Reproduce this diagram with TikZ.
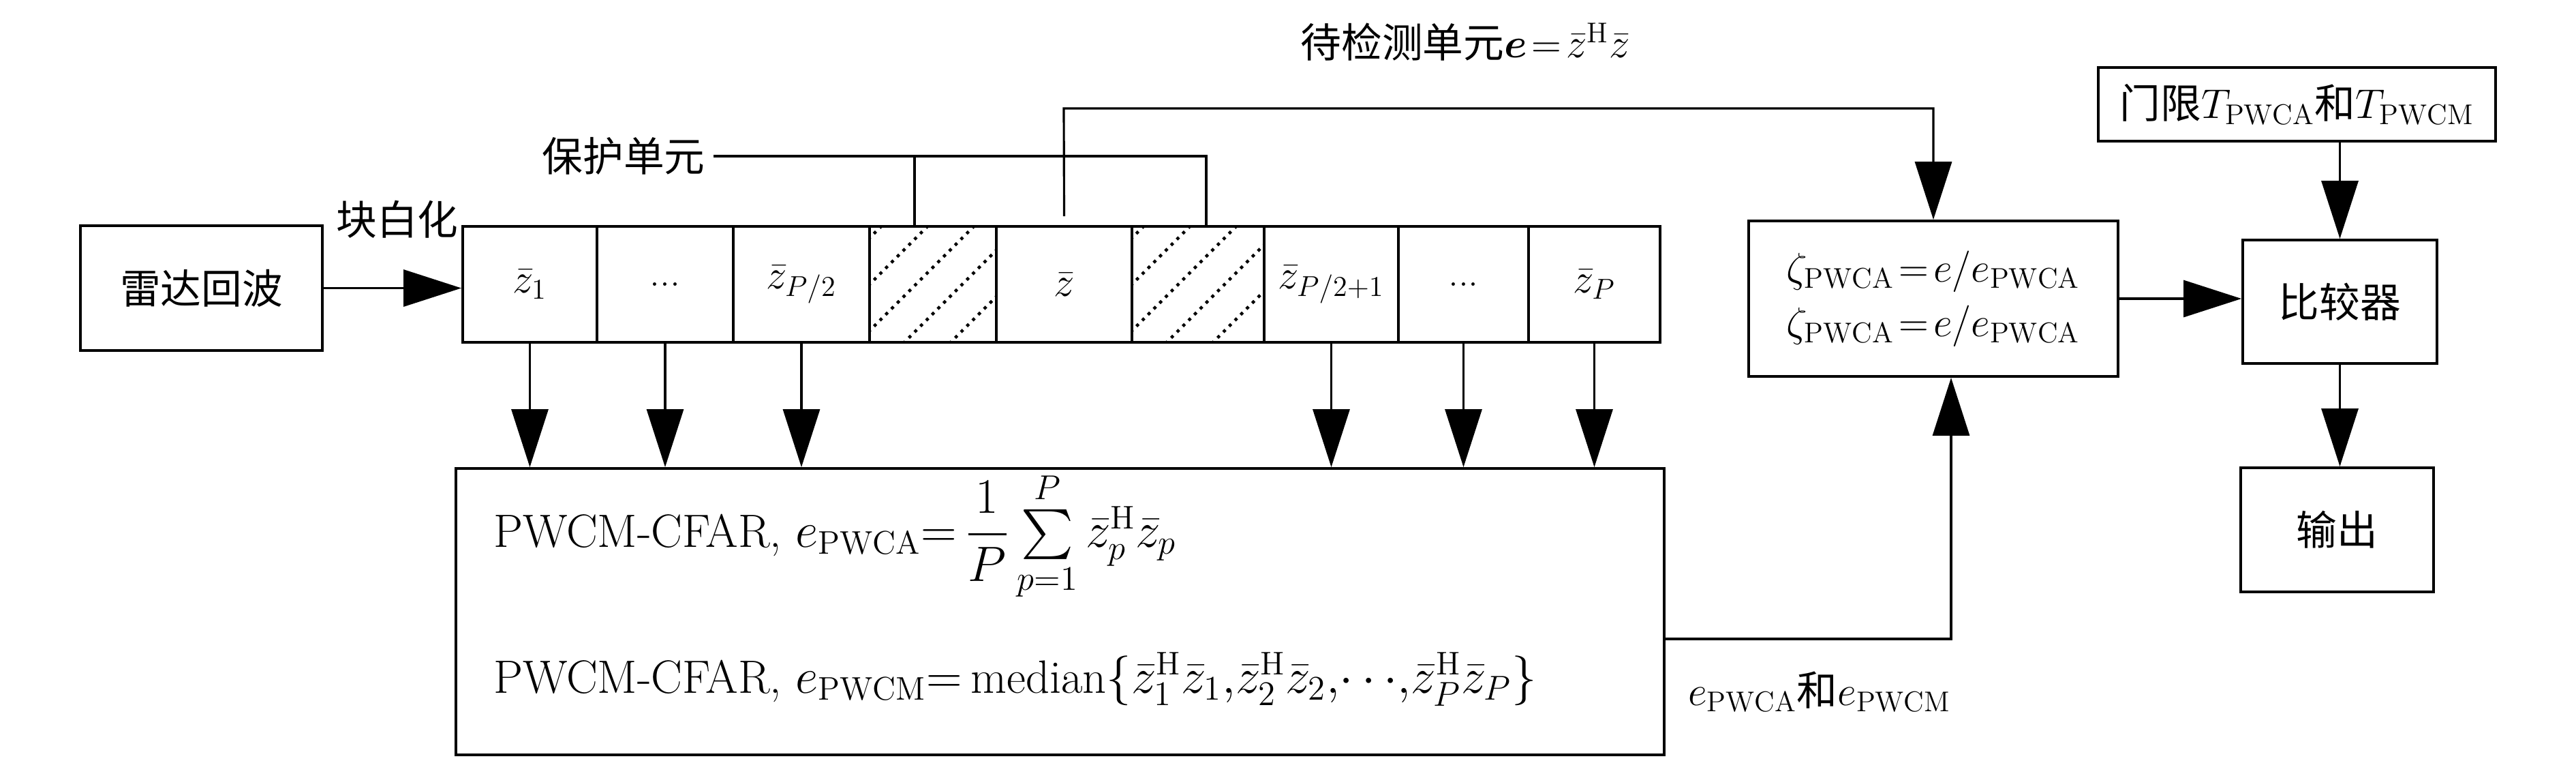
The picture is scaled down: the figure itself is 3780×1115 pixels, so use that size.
\documentclass[tikz,border=0pt]{standalone}
\usepackage{fontspec}
\usepackage{amsmath}
\usetikzlibrary{arrows.meta,calc}
\newfontfamily\cjk{Noto Sans CJK SC}

\begin{document}
\begin{tikzpicture}[x=0.1mm,y=-0.1mm,
        font=\fontsize{17}{20}\selectfont,
        box/.style={draw,line width=1.1pt,inner sep=0pt},
        cell/.style={box,minimum height=17mm},
        arr/.style={line width=0.9pt,-{Triangle[length=8.5mm,width=5.4mm]}},
        wire/.style={line width=0.9pt},
        hatch/.style={line width=0.45mm,dash pattern=on 0.45mm off 0.75mm},
        formula/.style={anchor=base west,font=\fontsize{19.5}{23}\selectfont}]
    \useasboundingbox (0,0) rectangle (3780,1115);
          \node[box,minimum width=35.5mm,minimum height=18.3mm] (radar) at (295.5,422.5) {\cjk 雷达回波};
          \node (blk) at (583,322) {\cjk 块白化};
          \node[cell,minimum width=19.7mm] (c1) at (777.5,417) {$\bar{z}_1$};
          \node[cell,minimum width=20mm] (c2) at (976,417) {...};
          \node[cell,minimum width=20mm] (c3) at (1176,417) {$\bar{z}_{P/2}$};
          \node[cell,minimum width=18.6mm] (c4) at (1369,417) {};
          \node[cell,minimum width=19.9mm] (c5) at (1561.5,417) {$\bar{z}$};
          \node[cell,minimum width=19.4mm] (c6) at (1758,417) {};
          \node[cell,minimum width=19.7mm] (c7) at (1953.5,417) {$\bar{z}_{P/2+1}$};
          \node[cell,minimum width=19.1mm] (c8) at (2147.5,417) {...};
          \node[cell,minimum width=19.3mm] (c9) at (2339.5,417) {$\bar{z}_P$};
          \foreach \h in {c4,c6}{
            \begin{scope}
              \clip (\h.south west) rectangle (\h.north east);
              \foreach \d in {-153,-85,-17,51,119}
                \draw[hatch] ($(\h.south west)+(\d,0)$) -- ++(300,-300);
            \end{scope}
          }
          \node (guard) at (915,229) {\cjk 保护单元};
          \node (title) at (2150,62) {\cjk 待检测单元$\boldsymbol{e}\!=\!\bar{z}^{\mathrm{H}}\bar{z}$};
          \coordinate (tc) at (1561,159);
          \node[box,minimum width=54.2mm,minimum height=22.8mm,align=center] (zeta) at (2837,438)
            {$\zeta_{\mathrm{PWCA}}\!=\!e/e_{\mathrm{PWCA}}$\\[1mm]$\zeta_{\mathrm{PWCA}}\!=\!e/e_{\mathrm{PWCA}}$};
          \node[box,minimum width=58.3mm,minimum height=10.8mm] (thr) at (3370.5,153)
            {\cjk 门限$T_{\mathrm{PWCA}}$和$T_{\mathrm{PWCM}}$};
          \node[box,minimum width=28.5mm,minimum height=18.1mm] (comp) at (3433.5,442.5) {\cjk 比较器};
          \node[box,minimum width=28.3mm,minimum height=18.2mm] (out) at (3429.5,777) {\cjk 输出};
          \node[box,minimum width=177.3mm,minimum height=42mm] (calc) at (1555.5,897) {};
          \node[formula] (ca) at (712,802)
            {PWCM-CFAR, $e_{\mathrm{PWCA}}{=}\,\dfrac{1}{P}\sum\limits_{p=1}^{P}\bar{z}_p^{\mathrm{H}}\bar{z}_p$};
          \node[formula] (cm) at (712,1016)
            {PWCM-CFAR, $e_{\mathrm{PWCM}}{=}\,\mathrm{median}\{\bar{z}_1^{\mathrm{H}}\bar{z}_1{,}\bar{z}_2^{\mathrm{H}}\bar{z}_2{,}{\cdots}{,}\bar{z}_P^{\mathrm{H}}\bar{z}_P\}$};
          \node (pair) at (2670,1015) {\cjk $e_{\mathrm{PWCA}}$和$e_{\mathrm{PWCM}}$};
          \draw[arr] (radar.east) -- (radar.east -| c1.west);
          \draw[wire] (guard.east) -- ([xshift=1.2mm]guard.east -| c6.north) -- ([xshift=1.2mm]c6.north);
          \draw[wire] ([xshift=-2.7mm]guard.east -| c4.north) -- ([xshift=-2.7mm]c4.north);
          \draw[arr] ([yshift=1.3mm]c5.north) -- (tc) -| (zeta.north);
          \foreach \c in {c1,c2,c3,c7,c8,c9}
            \draw[arr] (\c.south) -- (\c.south |- calc.north);
          \draw[arr] ([yshift=-4mm]calc.east) -| ([xshift=2.6mm]zeta.south);
          \draw[arr] (zeta.east) -- (zeta.east -| comp.west);
          \draw[arr] (comp.north |- thr.south) -- (comp.north);
          \draw[arr] (comp.south) -- (comp.south |- out.north);
    \end{tikzpicture}
\end{document}
